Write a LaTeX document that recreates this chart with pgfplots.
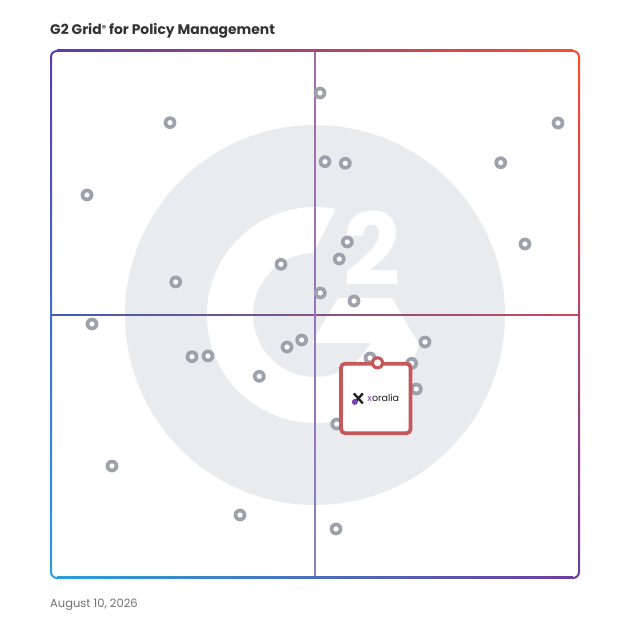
\documentclass[border=0pt]{standalone}
\usepackage{pgfplots}
\pgfplotsset{compat=1.18}
\usepackage{fontspec}
\setmainfont{Poppins}

\definecolor{logogray}{HTML}{E9ECEF}
\definecolor{markgray}{HTML}{9CA1AB}
\definecolor{boxred}{HTML}{C4585A}
\definecolor{xpurple}{HTML}{7A3FB5}
\definecolor{xdark}{HTML}{222222}
\definecolor{cTL}{HTML}{5A3DB0}
\definecolor{cTR}{HTML}{FF4B2B}
\definecolor{cBR}{HTML}{6B3FA0}
\definecolor{cBL}{HTML}{2A9FD8}
\definecolor{hl}{HTML}{3F5CB2}
\definecolor{hr}{HTML}{C8485A}
\definecolor{vt}{HTML}{A36AA8}
\definecolor{vb}{HTML}{8A7FD0}
\definecolor{titlecol}{HTML}{333333}
\definecolor{dategray}{HTML}{707070}

% ring marks: filled disc with a white hole
\pgfdeclareplotmark{grayring}{%
  \pgfpathcircle{\pgfpointorigin}{6.4pt}\pgfsetfillcolor{markgray}\pgfusepathqfill
  \pgfpathcircle{\pgfpointorigin}{2.6pt}\pgfsetfillcolor{white}\pgfusepathqfill}
\pgfdeclareplotmark{redring}{%
  \pgfpathcircle{\pgfpointorigin}{6.6pt}\pgfsetfillcolor{boxred}\pgfusepathqfill
  \pgfpathcircle{\pgfpointorigin}{3.4pt}\pgfsetfillcolor{white}\pgfusepathqfill}

\begin{document}
\begin{tikzpicture}[x=1pt,y=1pt]
\path (0,0) rectangle (628,628);

% G2 watermark
\begin{scope}[shift={(315,313)}]
  \fill[logogray] (0,0) circle (190);
  \fill[white,even odd rule] (0,0) circle (108) (0,0) circle (62);
  \fill[logogray] (-47.6,-28) -- (30.7,125) -- (125,125) -- (125,-28) -- cycle;
  \fill[white] (23,17) -- (77,17) -- (103,-28) -- (-3,-28) -- cycle;
  \node[white, inner sep=0pt, font=\fontsize{100}{100}\selectfont\bfseries] at (57,67) {2};
\end{scope}

% quadrant lines
\shade[left color=hl, right color=hr] (51,312.25) rectangle (579,313.75);
\shade[top color=vt, bottom color=vb] (314.25,50) rectangle (315.75,577);

% frame
\shade[left color=cTL, right color=cTR] (57,576) rectangle (573,578);
\shade[top color=cTR, bottom color=cBR] (578,56) rectangle (580,571);
\shade[left color=cBL, right color=cBR] (57,49) rectangle (573,51);
\shade[top color=cTL, bottom color=cBL] (50,56) rectangle (52,571);
\draw[cTL, line width=2pt] (51,571) arc (180:90:6);
\draw[cTR, line width=2pt] (573,577) arc (90:0:6);
\draw[cBR, line width=2pt] (579,56) arc (0:-90:6);
\draw[cBL, line width=2pt] (57,50) arc (270:180:6);

% titles
\node[anchor=base west, inner sep=0pt, text=titlecol, font=\fontsize{13.9}{16}\selectfont\bfseries]
  at (50,593) {G2 Grid{\fontsize{8.5}{8.5}\selectfont\raisebox{3.5pt}{®}} for Policy Management};
\node[anchor=base west, inner sep=0pt, text=dategray, font=\fontsize{11.5}{14}\selectfont]
  at (50,20) {August 10, 2026};

\begin{axis}[
    at={(51pt,50pt)}, anchor=south west,
    scale only axis, width=528pt, height=527pt,
    xmin=0, xmax=100, ymin=0, ymax=100,
    hide axis, clip=false,
]
\addplot[only marks, mark=grayring] coordinates {
    (50.95,92.03) (22.54,86.40) (96.02,86.34) (51.89,79.00) (55.74,78.69)
    (85.17,78.80) (6.82,72.68) (56.12,63.76) (89.77,63.38) (54.60,60.53)
    (43.56,59.53) (23.62,56.17) (51.00,54.08) (57.39,52.56) (7.77,48.20)
    (70.83,44.78) (47.48,45.16) (44.70,43.83) (26.70,41.99) (29.73,42.13)
    (60.42,41.75) (68.31,40.74) (39.45,38.27) (69.19,35.86) (54.11,29.22)
    (11.55,21.25) (35.80,11.95) (53.98,9.30)
};
% Xoralia card
\addplot[draw=none,
    nodes near coords={\hspace{15pt}\textcolor{xpurple}{x}\textcolor{xdark}{oralia}},
    every node near coord/.style={anchor=north, draw=boxred, line width=3.7pt,
        fill=white, rounded corners=4pt, minimum width=69.5pt, minimum height=69.5pt,
        inner sep=0pt, xshift=-1.7pt, yshift=1pt, font=\fontsize{9.5}{11}\selectfont, name=xbox},
] coordinates {(61.84,40.83)};
\addplot[only marks, mark=redring] coordinates {(61.84,40.83)};
\end{axis}

% Xoralia icon
\begin{scope}[shift={(xbox.center)}, xshift=-17.5pt]
  \draw[xdark, line width=2.4pt] (-4.5,5) -- (4.5,-5);
  \draw[xdark, line width=2.4pt] (-4.5,-5) -- (4.5,5);
  \fill[xpurple] (-3.5,-3.5) circle (3);
\end{scope}
\end{tikzpicture}
\end{document}
